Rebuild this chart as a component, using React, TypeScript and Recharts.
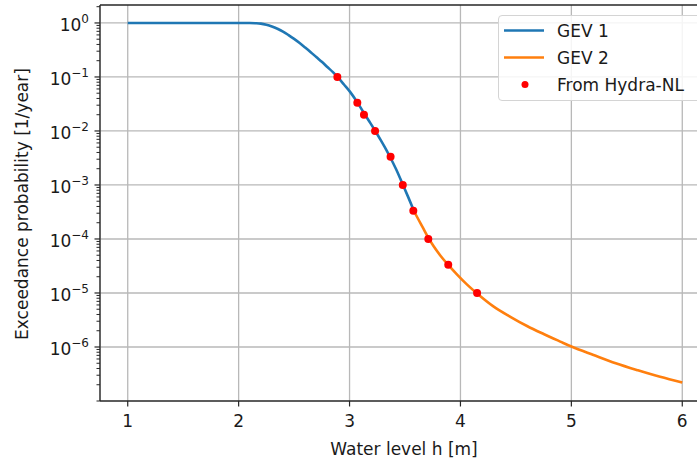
import React from "react";
import { ComposedChart, Line, Scatter, XAxis, YAxis, CartesianGrid, ReferenceLine } from "recharts";

// GEV 1 curve (water level h [m] -> exceedance probability [1/year])
const gev1H = [1.0, 1.5, 2.0, 2.1, 2.15, 2.2, 2.25, 2.3, 2.35, 2.4, 2.45, 2.5, 2.55, 2.6, 2.65, 2.7, 2.75, 2.8, 2.85, 2.89, 2.95, 3.01, 3.07, 3.13, 3.18, 3.232, 3.28, 3.33, 3.37, 3.42, 3.48, 3.53, 3.585];
const gev1P = [1.0, 1.0, 1.0, 0.9954, 0.9886, 0.9727, 0.9268, 0.861, 0.78, 0.692, 0.596, 0.507, 0.425, 0.351, 0.288, 0.234, 0.191, 0.153, 0.123, 0.101, 0.0724, 0.0513, 0.0339, 0.0214, 0.0148, 0.01, 0.00684, 0.00452, 0.00316, 0.00195, 0.00102, 0.000589, 0.000316];

// GEV 2 curve
const gev2H = [3.585, 3.62, 3.66, 3.71, 3.76, 3.82, 3.89, 3.97, 4.06, 4.15, 4.3, 4.45, 4.6, 4.75, 4.9, 5.0, 5.2, 5.4, 5.6, 5.8, 6.0];
const gev2P = [3.16e-4, 2.32e-4, 1.64e-4, 1.06e-4, 7.24e-5, 4.9e-5, 3.31e-5, 2.19e-5, 1.43e-5, 9.8e-6, 5.6e-6, 3.63e-6, 2.45e-6, 1.74e-6, 1.26e-6, 1.02e-6, 7.1e-7, 5.0e-7, 3.7e-7, 2.8e-7, 2.2e-7];

// Hydra-NL points
const hydraH = [2.89, 3.07, 3.13, 3.23, 3.37, 3.48, 3.575, 3.71, 3.89, 4.15];
const hydraP = [0.1, 0.0333, 0.02, 0.01, 0.00333, 0.001, 3.33e-4, 1e-4, 3.33e-5, 1e-5];

const xTicks = [1, 2, 3, 4, 5, 6];
const yMajor = [1, 1e-1, 1e-2, 1e-3, 1e-4, 1e-5, 1e-6];
const yMinor = [2, 3, 4, 5, 6, 7, 8, 9];

const X_DOMAIN: [number, number] = [0.75, 6.25];
const Y_DOMAIN: [number, number] = [1e-7, 2.15];

const BLUE = "#1f77b4";
const ORANGE = "#ff7f0e";
const RED = "#ff0000";
const SPINE = "#262626";
const GRID = "#b8b8b8";
const FONT = "DejaVu Sans";

const gev1 = gev1H.map((h, i) => ({ h, p: gev1P[i] }));
const gev2 = gev2H.map((h, i) => ({ h, p: gev2P[i] }));
const hydra = hydraH.map((h, i) => ({ h, p: hydraP[i] }));

// majors + minor ticks (2..9 x 10^k) inside the domain
const yTicks: number[] = [];
for (let e = -7; e <= 0; e++) {
  yTicks.push(Math.pow(10, e));
  yMinor.forEach((m) => {
    const v = m * Math.pow(10, e);
    if (v <= Y_DOMAIN[1]) yTicks.push(v);
  });
}

const YTick = (props: any) => {
  const { x, y, payload } = props;
  const v = payload.value;
  const e = Math.round(Math.log10(v));
  const major = Math.abs(v / Math.pow(10, e) - 1) < 1e-6 && e >= -6;
  const len = major ? 5.5 : 3.5;
  return (
    <g>
      <line x1={x - len} x2={x} y1={y} y2={y} stroke={SPINE} strokeWidth={major ? 1.2 : 1} />
      {major && (
        <text x={x - 11} y={y + 8} textAnchor="end" fontSize={17} fill="#1a1a1a" fontFamily={FONT}>
          <tspan>10</tspan>
          <tspan dy={-8} fontSize={12}>{e === 0 ? "0" : "\u2212" + Math.abs(e)}</tspan>
        </text>
      )}
    </g>
  );
};

const legendRows = [
  { label: "GEV 1", kind: "line", color: BLUE },
  { label: "GEV 2", kind: "line", color: ORANGE },
  { label: "From Hydra-NL", kind: "dot", color: RED },
];

export default function App() {
  return (
    <div style={{ position: "fixed", top: 0, left: 0, width: 697, height: 461, overflow: "hidden", background: "#fff" }}>
      <ComposedChart width={720} height={461} margin={{ top: 5, right: 10, bottom: 0, left: 0 }}>
        <CartesianGrid horizontal={false} stroke={GRID} strokeWidth={1.3} />
        {yMajor.map((v) => (
          <ReferenceLine key={v} y={v} stroke={GRID} strokeWidth={1.3} />
        ))}
        <ReferenceLine y={Y_DOMAIN[1]} stroke={SPINE} strokeWidth={1.3} />
        <XAxis
          dataKey="h"
          type="number"
          domain={X_DOMAIN}
          ticks={xTicks}
          allowDataOverflow
          height={60}
          stroke={SPINE}
          tickSize={5.5}
          tickMargin={8}
          tick={{ fontSize: 17, fill: "#1a1a1a", fontFamily: FONT }}
          axisLine={{ stroke: SPINE, strokeWidth: 1.3 }}
          tickLine={{ stroke: SPINE, strokeWidth: 1.2 }}
          label={{
            content: () => (
              <text x={404} y={455} textAnchor="middle" fontSize={17} fill="#1a1a1a" fontFamily={FONT}>
                Water level h [m]
              </text>
            ),
          }}
        />
        <YAxis
          dataKey="p"
          type="number"
          scale="log"
          domain={Y_DOMAIN}
          ticks={yTicks}
          interval={0}
          allowDataOverflow
          width={100}
          tickSize={0}
          tickMargin={0}
          tickLine={false}
          tick={<YTick />}
          axisLine={{ stroke: SPINE, strokeWidth: 1.3 }}
          label={{
            content: () => (
              <text
                x={22}
                y={204}
                transform="rotate(-90 22 204)"
                textAnchor="middle"
                dominantBaseline="central"
                fontSize={17}
                fill="#1a1a1a"
                fontFamily={FONT}
              >
                Exceedance probability [1/year]
              </text>
            ),
          }}
        />
        <Line data={gev1} dataKey="p" type="monotone" stroke={BLUE} strokeWidth={2.6} dot={false} isAnimationActive={false} />
        <Line data={gev2} dataKey="p" type="monotone" stroke={ORANGE} strokeWidth={2.6} dot={false} isAnimationActive={false} />
        <Scatter
          data={hydra}
          dataKey="p"
          fill={RED}
          isAnimationActive={false}
          shape={(props: any) => <circle cx={props.cx} cy={props.cy} r={4} fill={RED} />}
        />
      </ComposedChart>
      <div
        style={{
          position: "absolute",
          left: 498,
          top: 15,
          width: 208,
          height: 86,
          border: "1px solid #d4d4d4",
          borderRadius: 4,
          background: "rgba(255,255,255,0.85)",
          fontFamily: FONT,
          fontSize: 17,
          color: "#1a1a1a",
          boxSizing: "border-box",
        }}
      >
        {legendRows.map((r, i) => (
          <div key={r.label} style={{ position: "absolute", left: 0, top: 1 + i * 27, height: 27, display: "flex", alignItems: "center", whiteSpace: "nowrap" }}>
            <svg width={58} height={27}>
              {r.kind === "line" ? (
                <line x1={5} x2={45} y1={13.5} y2={13.5} stroke={r.color} strokeWidth={2.6} />
              ) : (
                <circle cx={26} cy={13.5} r={3.5} fill={r.color} />
              )}
            </svg>
            <span>{r.label}</span>
          </div>
        ))}
      </div>
    </div>
  );
}
